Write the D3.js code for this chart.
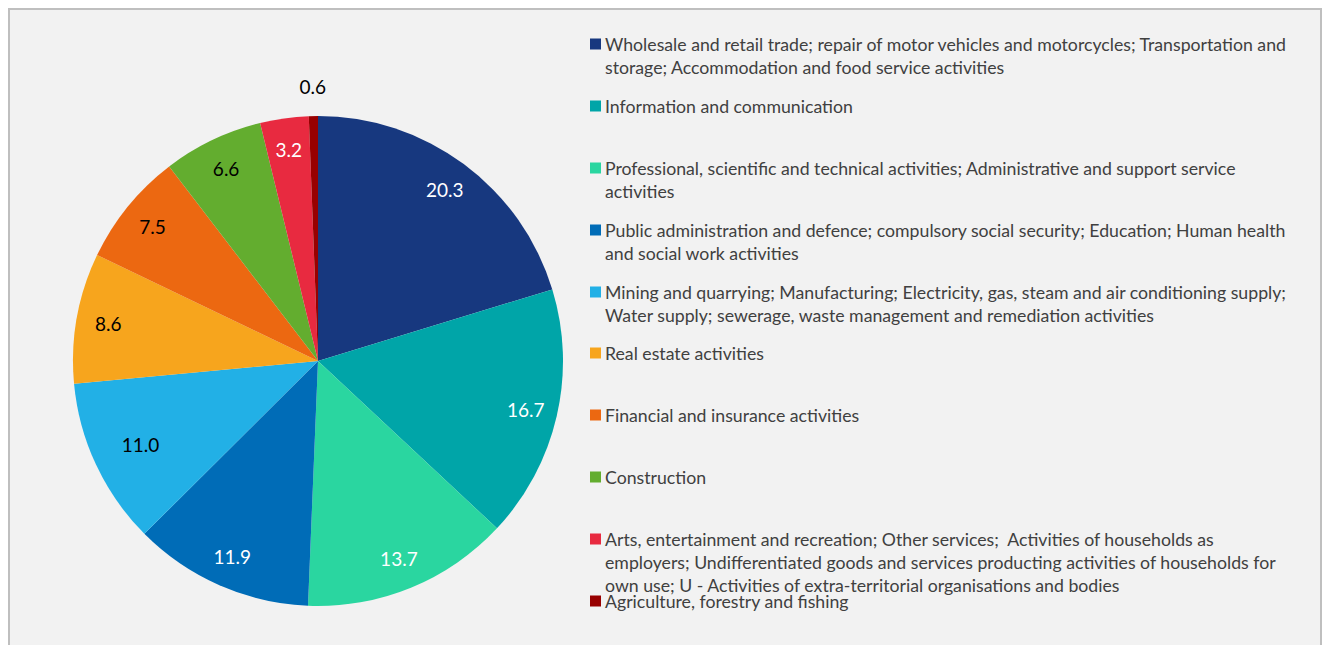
<!DOCTYPE html>
<html>
<head>
<meta charset="utf-8">
<script src="https://cdn.jsdelivr.net/npm/d3@7"></script>
<style>
  body { margin: 0; background: #fff; }
  svg { display: block; font-family: Lato, "Open Sans", sans-serif; }
</style>
</head>
<body>
<svg id="chart" width="1326" height="645"></svg>
<script>
// sector shares, in legend order
var sectors = [
  ["Wholesale and retail trade; repair of motor vehicles and motorcycles; Transportation and", "storage; Accommodation and food service activities"],
  ["Information and communication"],
  ["Professional, scientific and technical activities; Administrative and support service", "activities"],
  ["Public administration and defence; compulsory social security; Education; Human health", "and social work activities"],
  ["Mining and quarrying; Manufacturing; Electricity, gas, steam and air conditioning supply;", "Water supply; sewerage, waste management and remediation activities"],
  ["Real estate activities"],
  ["Financial and insurance activities"],
  ["Construction"],
  ["Arts, entertainment and recreation; Other services;  Activities of households as", "employers; Undifferentiated goods and services producting activities of households for", "own use; U - Activities of extra-territorial organisations and bodies"],
  ["Agriculture, forestry and fishing"]
];
var values = [20.3, 16.7, 13.7, 11.9, 11.0, 8.6, 7.5, 6.6, 3.2, 0.6];
var colors = ["#17387f", "#00a5a8", "#2ad6a0", "#006cb7", "#22b0e6", "#f7a51d", "#ec6811", "#63ad2f", "#e82a40", "#980000"];
var labelColors = ["#fff", "#fff", "#fff", "#fff", "#000", "#000", "#000", "#000", "#fff", "#000"];

var svg = d3.select('#chart');

// plot frame
svg.append('rect')
  .attr('x', 9).attr('y', 9)
  .attr('width', 1312).attr('height', 660)
  .attr('fill', '#f2f2f2')
  .attr('stroke', '#bfbfbf')
  .attr('stroke-width', 2);

var cx = 318, cy = 361, R = 245;

var pie = d3.pie().sort(null).value(function(d){ return d; });
var arcs = pie(values);

var arc = d3.arc().innerRadius(0).outerRadius(R);

// label distance from centre, as share of the radius (last one sits outside)
var labelR = [0.87, 0.87, 0.87, 0.87, 0.80, 0.87, 0.87, 0.87, 0.87, 1.12];

var g = svg.append('g')
  .attr('transform', 'translate(' + cx + ',' + cy + ')');

g.selectAll('.slice')
  .data(arcs)
  .enter().append('path')
    .attr('class', 'slice')
    .attr('d', arc)
    .attr('fill', function(d, i){ return colors[i]; });

g.selectAll('.lbl')
  .data(arcs)
  .enter().append('text')
    .attr('class', 'lbl')
    .attr('transform', function(d, i){
      var r = R * labelR[i];
      var c = d3.arc().innerRadius(r).outerRadius(r).centroid(d);
      return 'translate(' + c[0] + ',' + c[1] + ')';
    })
    .attr('text-anchor', 'middle')
    .attr('dominant-baseline', 'central')
    .attr('font-size', '19px')
    .attr('fill', function(d, i){ return labelColors[i]; })
    .text(function(d){ return d.data.toFixed(1); });

// legend
var legendY = [44, 106, 168, 230, 292, 353, 415, 477, 539, 601];
var legend = svg.selectAll('.legend')
  .data(sectors)
  .enter().append('g')
    .attr('class', 'legend')
    .attr('transform', function(d, i){ return 'translate(590,' + legendY[i] + ')'; });

legend.append('rect')
  .attr('x', 0).attr('y', -5.5)
  .attr('width', 11).attr('height', 11)
  .attr('fill', function(d, i){ return colors[i]; });

legend.each(function(lines){
  var t = d3.select(this).append('text')
    .attr('x', 15)
    .attr('font-size', '17.7px')
    .attr('fill', '#404040');
  lines.forEach(function(line, j){
    t.append('tspan')
      .attr('x', 15)
      .attr('y', j * 23)
      .attr('dominant-baseline', 'central')
      .style('white-space', 'pre')
      .text(line);
  });
});
</script>
</body>
</html>
